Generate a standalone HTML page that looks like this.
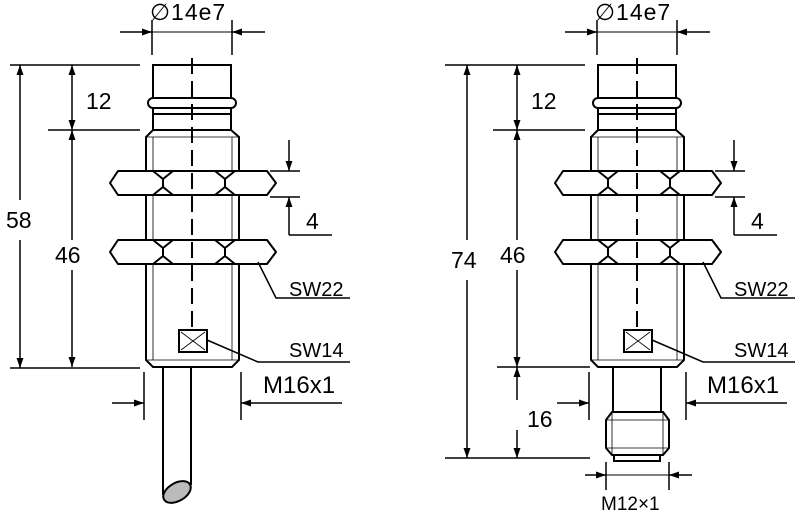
<!DOCTYPE html>
<html><head><meta charset="utf-8"><style>
html,body{margin:0;padding:0;background:#fff;width:797px;height:513px;overflow:hidden}
svg{display:block}
text{font-family:"Liberation Sans",sans-serif;fill:#000}
</style></head><body>
<svg width="797" height="513" viewBox="0 0 797 513" xmlns="http://www.w3.org/2000/svg">
<defs>
<marker id="a" viewBox="0 0 10 10" refX="10" refY="5" markerWidth="10" markerHeight="10" markerUnits="userSpaceOnUse" orient="auto"><path d="M0,1.5 L10,5 L0,8.5 z" fill="#000"/></marker>
<g id="nut" fill="#fff" stroke="#000" stroke-width="2" stroke-linejoin="round">
<polygon points="110,12 118,0 267,0 276,12 267,24 118,24"/>
<path d="M153,0 L163,8 L173,0 M153,24 L163,16 L173,24 M163,8 V16 M215,0 L225,8 L235,0 M215,24 L225,16 L235,24 M225,8 V16" fill="none"/>
</g>
<g id="sensor" stroke="#000" fill="none">
<line x1="152" y1="20" x2="152" y2="55" stroke-width="1.5"/>
<line x1="232" y1="20" x2="232" y2="55" stroke-width="1.5"/>
<line x1="120" y1="32" x2="152" y2="32" stroke-width="1.5" marker-end="url(#a)"/>
<line x1="265" y1="32" x2="232" y2="32" stroke-width="1.5" marker-end="url(#a)"/>
<line x1="152" y1="32" x2="232" y2="32" stroke-width="1"/>
<path d="M153,98 V65 H231 V98" stroke-width="2"/>
<rect x="148" y="98" width="88" height="10" rx="5" stroke-width="2" fill="#fff"/>
<path d="M153,108 V130 M231,108 V130 M153,114 H231" stroke-width="2"/>
<path d="M153,130 H231 L239,137 V360 L232,367 H153 L146,360 V137 Z" stroke-width="2" fill="#fff"/>
<path d="M146,137 H239 M146,360 H239 M153,137 V360 M232,137 V360" stroke-width="0.8"/>
<use href="#nut" y="171"/>
<use href="#nut" y="240"/>
<line x1="192" y1="58" x2="192" y2="330" stroke-width="2" stroke-dasharray="16,7"/>
<rect x="179" y="330" width="28" height="22" stroke-width="2" fill="#fff"/>
<path d="M181,332 L205,350 M205,332 L181,350" stroke-width="0.8"/>
<path d="M207,340 L258,362 H350" stroke-width="1.5"/>
<path d="M258,262 L276,298 H350" stroke-width="1.5"/>
<line x1="270" y1="171" x2="300" y2="171" stroke-width="1.5"/>
<line x1="270" y1="197" x2="300" y2="197" stroke-width="1.5"/>
<line x1="289" y1="140" x2="289" y2="171" stroke-width="1.5" marker-end="url(#a)"/>
<path d="M289,235 V197" stroke-width="1.5" marker-end="url(#a)"/>
<path d="M289,235 H332" stroke-width="1.5"/>
<line x1="144" y1="372" x2="144" y2="420" stroke-width="1.5"/>
<line x1="241" y1="372" x2="241" y2="420" stroke-width="1.5"/>
<line x1="112" y1="403" x2="144" y2="403" stroke-width="1.5" marker-end="url(#a)"/>
<line x1="342" y1="403" x2="241" y2="403" stroke-width="1.5" marker-end="url(#a)"/>
<line x1="48" y1="130" x2="140" y2="130" stroke-width="1.5"/>
<line x1="72" y1="100" x2="72" y2="65" stroke-width="1.5" marker-end="url(#a)"/>
<line x1="72" y1="100" x2="72" y2="130" stroke-width="1.5" marker-end="url(#a)"/>
<line x1="72" y1="240" x2="72" y2="130" stroke-width="1.5" marker-end="url(#a)"/>
<line x1="72" y1="270" x2="72" y2="367" stroke-width="1.5" marker-end="url(#a)"/>
</g>
</defs>
<g fill="none" stroke="#000">
<use href="#sensor"/>
<use href="#sensor" x="445"/>
<line x1="10" y1="65" x2="140" y2="65" stroke-width="1.5"/>
<line x1="10" y1="368" x2="140" y2="368" stroke-width="1.5"/>
<line x1="20" y1="200" x2="20" y2="65" stroke-width="1.5" marker-end="url(#a)"/>
<line x1="20" y1="240" x2="20" y2="368" stroke-width="1.5" marker-end="url(#a)"/>
<path d="M163,367 V495 M191,367 V485" stroke-width="2"/>
<ellipse cx="177" cy="492" rx="15" ry="9" transform="rotate(-30 177 492)" fill="#bbb" stroke-width="2"/>
<line x1="445" y1="65" x2="585" y2="65" stroke-width="1.5"/>
<line x1="445" y1="458" x2="590" y2="458" stroke-width="1.5"/>
<line x1="497" y1="367" x2="590" y2="367" stroke-width="1.5"/>
<line x1="467" y1="240" x2="467" y2="65" stroke-width="1.5" marker-end="url(#a)"/>
<line x1="467" y1="280" x2="467" y2="458" stroke-width="1.5" marker-end="url(#a)"/>
<line x1="517" y1="400" x2="517" y2="367" stroke-width="1.5" marker-end="url(#a)"/>
<line x1="517" y1="430" x2="517" y2="458" stroke-width="1.5" marker-end="url(#a)"/>
<path d="M613,367 V412 M661,367 V412" stroke-width="2"/>
<path d="M612,412 H663 L669,420 V448 L663,455 H612 L606,448 V420 Z" stroke-width="2" fill="#fff"/>
<path d="M606,420 H669 M606,448 H669 M612,412 V455 M663,412 V455" stroke-width="0.8"/>
<path d="M614,455 V461 H660 V455" stroke-width="2"/>
<line x1="606" y1="462" x2="606" y2="490" stroke-width="1.5"/>
<line x1="669" y1="462" x2="669" y2="490" stroke-width="1.5"/>
<line x1="606" y1="475" x2="669" y2="475" stroke-width="1"/>
<line x1="585" y1="475" x2="606" y2="475" stroke-width="1.5" marker-end="url(#a)"/>
<line x1="692" y1="475" x2="669" y2="475" stroke-width="1.5" marker-end="url(#a)"/>
</g>
<g font-size="23">
<text x="150" y="20" letter-spacing="1">∅14e7</text><text x="595" y="20" letter-spacing="1">∅14e7</text>
<text x="86" y="109">12</text><text x="531" y="109">12</text>
<text x="55" y="263">46</text><text x="500" y="263">46</text>
<text x="6" y="228">58</text><text x="451" y="268">74</text>
<text x="527" y="427">16</text>
<text x="306" y="229">4</text><text x="751" y="229">4</text>
<text x="289" y="296" font-size="20">SW22</text><text x="734" y="296" font-size="20">SW22</text>
<text x="289" y="357" font-size="20">SW14</text><text x="734" y="357" font-size="20">SW14</text>
<text x="263" y="393" font-size="24">M16x1</text><text x="707" y="393" font-size="24">M16x1</text>
<text x="601" y="510" font-size="19">M12×1</text>
</g>
</svg>
</body></html>
